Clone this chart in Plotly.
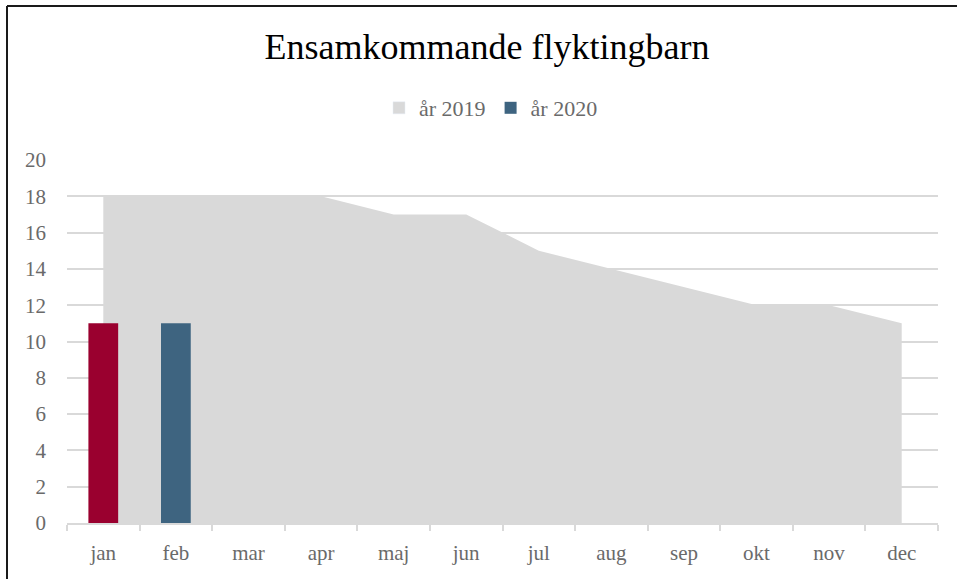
import plotly.graph_objects as go

months = ["jan", "feb", "mar", "apr", "maj", "jun", "jul", "aug", "sep", "okt", "nov", "dec"]
values_2019 = [18, 18, 18, 18, 17, 17, 15, 14, 13, 12, 12, 11]
months_2020 = ["feb", "jan"]
values_2020 = [11, 11]
colors_2020 = ["#3e6480", "#9a002f"]
y_ticks = list(range(0, 21, 2))
color_2019 = "#d9d9d9"

W, H = 957, 579
L, R, T, B = 67, 19, 160, 56
FONT = "Liberation Serif"
TEXT_GREY = "#6a6a6a"

fig = go.Figure()
fig.add_trace(go.Scatter(
    x=months, y=values_2019, name="år 2019", mode="lines", showlegend=False,
    fill="tozeroy", fillcolor=color_2019, line=dict(width=0, color=color_2019),
))
# legend-only swatch for the 2019 area (no marks drawn)
fig.add_trace(go.Bar(x=[None], y=[None], name="år 2019", marker=dict(color=color_2019)))
fig.add_trace(go.Bar(
    x=months_2020, y=values_2020, name="år 2020", yaxis="y2",
    marker=dict(color=colors_2020, line=dict(width=0)), width=0.41,
))

pw = W - L - R
ph = H - T - B
fx = lambda px: (px - L) / pw
fy = lambda py: (H - B - py) / ph

fig.update_layout(
    width=W, height=H,
    margin=dict(l=L, r=R, t=T, b=B, autoexpand=False),
    paper_bgcolor="white", plot_bgcolor="white",
    font=dict(family=FONT, color=TEXT_GREY, size=21),
    title=dict(text="Ensamkommande flyktingbarn", x=487 / W, xref="container",
               xanchor="center", y=1 - 46 / H, yref="container", yanchor="middle",
               font=dict(family=FONT, size=36, color="#000000")),
    legend=dict(orientation="h", x=491 / W, xref="container", xanchor="center",
                y=1 - 108 / H, yref="container", yanchor="middle",
                font=dict(family=FONT, size=22, color=TEXT_GREY),
                traceorder="normal", itemwidth=30),
    barmode="overlay",
    showlegend=True,
    hovermode=False,
    xaxis=dict(type="category", categoryorder="array", categoryarray=months,
               range=[-0.5, 11.5], automargin=False,
               showgrid=False, showline=True, linecolor="#d9d9d9", linewidth=2,
               ticks="outside", tickson="boundaries", ticklen=6, tickcolor="#d9d9d9",
               tickwidth=2, ticklabelstandoff=10, zeroline=False,
               tickfont=dict(family=FONT, size=21, color=TEXT_GREY)),
    yaxis=dict(range=[0, 20], tickvals=y_ticks, showgrid=True, gridcolor="#d9d9d9",
               gridwidth=2, zeroline=False, showline=False, ticks="", automargin=False,
               ticklabelstandoff=20,
               tickfont=dict(family=FONT, size=21, color=TEXT_GREY)),
    yaxis2=dict(range=[0, 20], overlaying="y", visible=False, showgrid=False,
                zeroline=False, automargin=False),
    shapes=[
        dict(type="line", xref="paper", yref="paper", x0=fx(7), x1=fx(7), y0=fy(600), y1=fy(6),
             line=dict(color="#1a1a1a", width=2), layer="above"),
        dict(type="line", xref="paper", yref="paper", x0=fx(7), x1=fx(1000), y0=fy(6), y1=fy(6),
             line=dict(color="#1a1a1a", width=2), layer="above"),
    ],
)

fig.write_html("out.html", config={"displayModeBar": False},
               post_script="document.body.style.margin='0px';")
